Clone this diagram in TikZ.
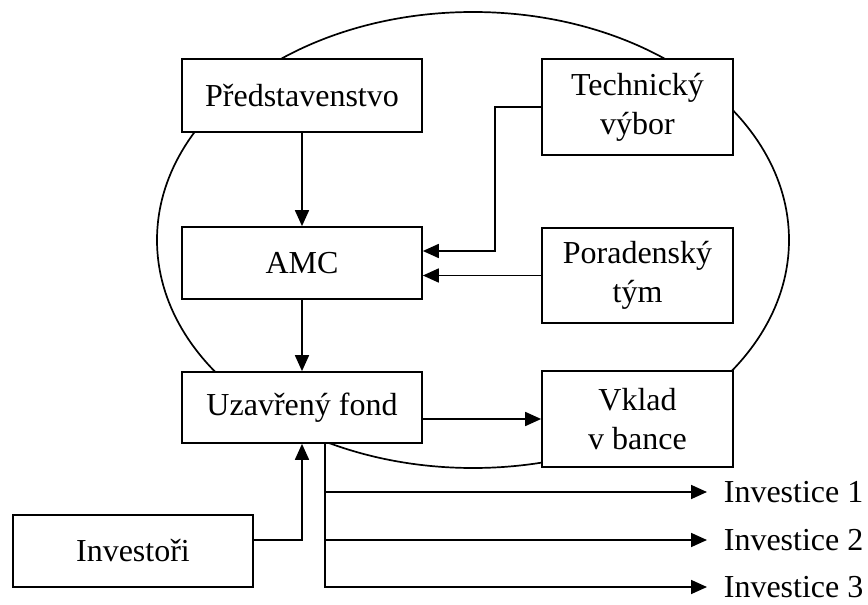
\documentclass[tikz,border=0pt]{standalone}
\usepackage{fontspec}
\setmainfont{Liberation Serif}
\usetikzlibrary{arrows.meta}
\begin{document}
\begin{tikzpicture}[x=1pt,y=-1pt,
  line width=1.7pt,
  txt/.style={font=\fontsize{32}{39}\selectfont},
  box/.style={txt, draw, fill=white, rectangle, align=center, inner sep=0pt},
  wide/.style={box, minimum width=240pt},
  narrow/.style={box, minimum width=191pt},
  lbl/.style={txt, anchor=west, inner xsep=16pt, inner ysep=0pt},
  arr/.style={-{Triangle[length=16pt,width=14pt]}}]
\useasboundingbox (0,0) rectangle (868,605);

% organisation boundary
\draw (473,240) ellipse [x radius=316, y radius=228];

% boxes
\node[wide, minimum height=73pt]   (pred)  at (302,95.5)   {Představenstvo};
\node[narrow, minimum height=96pt] (tech)  at (637.5,107)  {Technický\\výbor};
\node[wide, minimum height=72pt]   (amc)   at (302,263)    {AMC};
\node[narrow, minimum height=95pt] (por)   at (637.5,275.5) {Poradenský\\tým};
\node[wide, minimum height=71pt]   (fond)  at (302,407.5)  {Uzavřený fond};
\node[narrow, minimum height=96pt] (vklad) at (637.5,419)  {Vklad\\v bance};
\node[wide, minimum height=72pt]   (inv)   at (133,551)    {Investoři};

% investment outputs
\node[lbl] (i1) at (707,492) {Investice 1};
\node[lbl] (i2) at (707,540) {Investice 2};
\node[lbl] (i3) at (707,587) {Investice 3};

% helper points
\coordinate (tk) at (495,251);
\coordinate (ij) at (302,540);
\coordinate (b0) at (325,443);

% connectors
\draw[arr] (pred.south) -- (amc.north);
\draw[arr] (tech.west) -| (tk) -- (tk -| amc.east);
\draw[arr] (por.west) -- (por.west -| amc.east);
\draw[arr] (amc.south) -- (fond.north);
\draw[arr] (vklad.west -| fond.east) -- (vklad.west);
\draw[arr] (inv.east |- ij) -- (ij) -- (fond.south);
\draw[arr] (b0) |- (i3.west);
\draw[arr] (i1.west -| b0) -- (i1.west);
\draw[arr] (i2.west -| b0) -- (i2.west);
\end{tikzpicture}
\end{document}
